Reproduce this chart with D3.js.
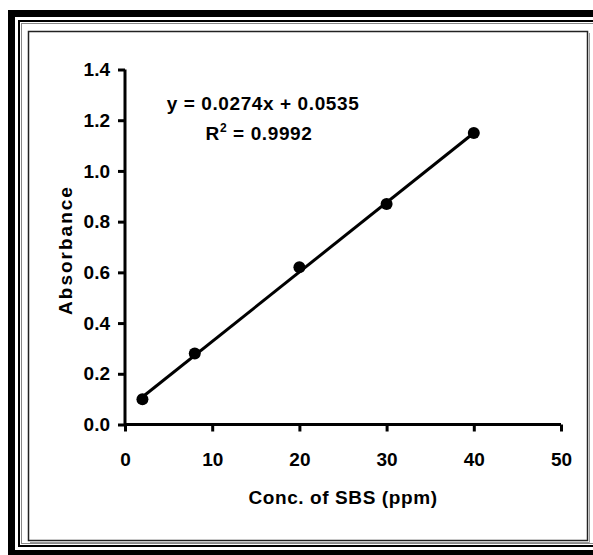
<!DOCTYPE html>
<html>
<head>
<meta charset="utf-8">
<script src="https://cdn.jsdelivr.net/npm/d3@7"></script>
<style>
  html, body { margin: 0; padding: 0; background: #fff; }
  svg { display: block; }
  text { font-family: "Liberation Sans", Arial, sans-serif; font-weight: bold; fill: #000; }
</style>
</head>
<body>
<svg id="chart" width="593" height="555"></svg>
<script>
// ---- data ----
const concentrations = [2, 8, 20, 30, 40];
const absorbances = [0.10, 0.28, 0.62, 0.87, 1.15];
const xTicks = [0, 10, 20, 30, 40, 50];
const yTicks = [0.0, 0.2, 0.4, 0.6, 0.8, 1.0, 1.2, 1.4];
const slope = 0.0274;
const intercept = 0.0535;
const equationText = "y = 0.0274x + 0.0535";
const r2Value = "0.9992";
const xTitle = "Conc. of SBS (ppm)";
const yTitle = "Absorbance";

const svg = d3.select("#chart");
svg.append("rect").attr("width", 593).attr("height", 555).attr("fill", "#fff");

// ---- frames ----
svg.append("rect").attr("x", 11.5).attr("y", 13.5).attr("width", 620).attr("height", 540)
  .attr("fill", "none").attr("stroke", "#000").attr("stroke-width", 7);
svg.append("rect").attr("x", 19).attr("y", 21).attr("width", 620).attr("height", 525)
  .attr("fill", "none").attr("stroke", "#000").attr("stroke-width", 2);
svg.append("rect").attr("x", 21.5).attr("y", 23.5).attr("width", 620).attr("height", 520)
  .attr("fill", "none").attr("stroke", "#888").attr("stroke-width", 1);
svg.append("rect").attr("x", 28.5).attr("y", 31.5).attr("width", 559).attr("height", 509)
  .attr("fill", "none").attr("stroke", "#222").attr("stroke-width", 1.5);
svg.append("path").attr("d", "M589.5,33 V542.5 H30")
  .attr("fill", "none").attr("stroke", "#999").attr("stroke-width", 1);

// ---- scales ----
const x = d3.scaleLinear().domain([0, 50]).range([125, 561]);
const y = d3.scaleLinear().domain([0, 1.4]).range([424.5, 69.5]);

// ---- axes ----
const xAxis = d3.axisBottom(x).tickValues(xTicks).tickFormat(d3.format("d"))
  .tickSize(7).tickPadding(21).tickSizeOuter(0);
const yAxis = d3.axisLeft(y).tickValues(yTicks).tickFormat(d3.format(".1f"))
  .tickSize(7).tickPadding(8).tickSizeOuter(0);

const gx = svg.append("g").attr("transform", `translate(0,${y(0)})`).call(xAxis);
const gy = svg.append("g").attr("transform", `translate(${x(0)},0)`).call(yAxis);
[gx, gy].forEach(g => {
  g.select(".domain").attr("stroke", "#000").attr("stroke-width", 3);
  g.selectAll(".tick line").attr("stroke", "#000").attr("stroke-width", 3);
  g.selectAll(".tick text").attr("font-size", 19).attr("font-family", "Liberation Sans, Arial, sans-serif")
    .attr("font-weight", "bold").attr("fill", "#000");
});
gx.select(".domain").attr("d", `M${x(0)},0H${x(50)}`);
gy.select(".domain").attr("d", `M0,${y(0)}V${y(1.4)}`);

// ---- trendline ----
const xmin = d3.min(concentrations), xmax = d3.max(concentrations);
svg.append("line")
  .attr("x1", x(xmin)).attr("y1", y(slope * xmin + intercept))
  .attr("x2", x(xmax)).attr("y2", y(slope * xmax + intercept))
  .attr("stroke", "#000").attr("stroke-width", 3);

// ---- points ----
svg.selectAll("circle.pt").data(concentrations).enter().append("circle")
  .attr("class", "pt")
  .attr("cx", d => x(d)).attr("cy", (d, i) => y(absorbances[i]))
  .attr("r", 6).attr("fill", "#000");

// ---- equation ----
svg.append("text").attr("x", 263).attr("y", 110).attr("text-anchor", "middle")
  .attr("font-size", 19).attr("letter-spacing", 0.6).text(equationText);
const r2 = svg.append("text").attr("x", 259).attr("y", 140).attr("text-anchor", "middle")
  .attr("font-size", 19).attr("letter-spacing", 0.6);
r2.append("tspan").text("R");
r2.append("tspan").attr("font-size", 12).attr("dy", -8).text("2");
r2.append("tspan").attr("dy", 8).text(" = " + r2Value);

// ---- axis titles ----
svg.append("text").attr("x", 343).attr("y", 504).attr("text-anchor", "middle")
  .attr("font-size", 19).attr("letter-spacing", 0.6).text(xTitle);
svg.append("text").attr("transform", "translate(72,250) rotate(-90)").attr("text-anchor", "middle")
  .attr("font-size", 19).attr("letter-spacing", 2).text(yTitle);
</script>
</body>
</html>
